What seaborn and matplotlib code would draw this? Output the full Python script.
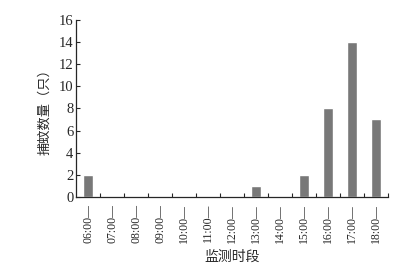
import matplotlib
matplotlib.use('Agg')
import matplotlib.pyplot as plt
import seaborn as sns
import pandas as pd
import numpy as np

# 监测时段与捕蚊数量
periods = ['06:00—', '07:00—', '08:00—', '09:00—', '10:00—', '11:00—', '12:00—',
           '13:00—', '14:00—', '15:00—', '16:00—', '17:00—', '18:00—']
counts = [2, 0, 0, 0, 0, 0, 0, 1, 0, 2, 8, 14, 7]

sns.set_style('ticks')
plt.rcParams['font.family'] = ['Liberation Serif', 'Noto Sans CJK SC']
plt.rcParams['axes.unicode_minus'] = False

df = pd.DataFrame({'时段': periods, '数量': counts})

fig = plt.figure(figsize=(4.07, 2.65), dpi=100)
ax = fig.add_axes([0.187, 0.257, 0.766, 0.668])
sns.barplot(data=df, x='时段', y='数量', color='#787878', width=0.42,
            saturation=1, ax=ax)

ax.set_xlim(-0.5, len(periods) - 0.5)
ax.set_ylim(0, 16)
ax.set_yticks(range(0, 17, 2))
ax.set_xticks(np.arange(0.5, len(periods), 1), minor=True)
ax.tick_params(axis='x', which='major', length=0, labelsize=8.5, rotation=90, pad=5)
ax.tick_params(axis='x', which='minor', length=3, direction='in', width=0.8)
ax.tick_params(axis='y', length=3, direction='in', width=0.8, labelsize=10.5, pad=2)

cjk = ['Noto Sans CJK SC']
ax.set_xlabel('监测时段', fontsize=10, family=cjk, va='center')
ax.xaxis.set_label_coords(0.5, -0.338)
ax.set_ylabel('捕蚊数量（只）', fontsize=9.5, family=cjk, va='center')
ax.yaxis.set_label_coords(-0.10, 0.5)
for s in ['top', 'right']:
    ax.spines[s].set_visible(False)
for s in ['left', 'bottom']:
    ax.spines[s].set_linewidth(0.9)

fig.savefig('out.png', dpi=100)
